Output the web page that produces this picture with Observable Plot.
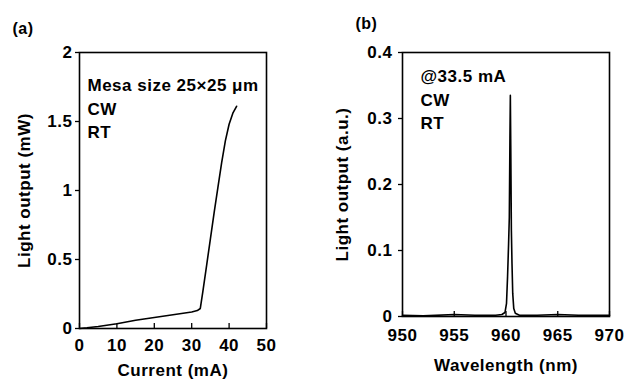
<!DOCTYPE html>
<html><head><meta charset="utf-8">
<script src="https://cdn.jsdelivr.net/npm/d3@7"></script>
<script src="https://cdn.jsdelivr.net/npm/@observablehq/plot@0.6"></script>
<style>
body{margin:0;background:#fff;}
#wrap{position:relative;width:627px;height:379px;overflow:hidden;background:#fff;}
#wrap svg{position:absolute;top:0;}
</style></head><body><div id="wrap"></div>
<script>
// Panel (a): L-I curve
const currentMA = [0, 2, 5, 10, 15, 20, 25, 30, 31.5, 32.3, 33, 34, 35, 36, 37, 38, 39, 40, 41, 42];
const powerMW   = [0, 0.005, 0.015, 0.035, 0.06, 0.08, 0.1, 0.12, 0.13, 0.145, 0.27, 0.46, 0.65, 0.84, 1.02, 1.2, 1.36, 1.48, 1.56, 1.61];
const xTicksA = [0, 10, 20, 30, 40, 50];
const xTickLabelsA = ["0", "10", "20", "30", "40", "50"];
const yTicksA = [0, 0.5, 1, 1.5, 2];
const yTickLabelsA = ["0", "0.5", "1", "1.5", "2"];
const annotA = ["Mesa size 25×25 μm", "CW", "RT"];
const xLabelA = "Current (mA)";
const yLabelA = "Light output (mW)";
const panelA = "(a)";

// Panel (b): spectrum
const wavelengthNM = [950, 952, 955, 957, 959, 959.6, 959.9, 960.05, 960.15, 960.25, 960.32, 960.38, 960.42, 960.46, 960.52, 960.58, 960.65, 960.75, 960.9, 961.3, 963, 965, 967, 970];
const intensityAU  = [0.002, 0.001, 0.003, 0.002, 0.002, 0.003, 0.006, 0.02, 0.06, 0.11, 0.15, 0.27, 0.335, 0.26, 0.13, 0.08, 0.035, 0.012, 0.005, 0.002, 0.002, 0.003, 0.002, 0.002];
const xTicksB = [950, 955, 960, 965, 970];
const xTickLabelsB = ["950", "955", "960", "965", "970"];
const yTicksB = [0, 0.1, 0.2, 0.3, 0.4];
const yTickLabelsB = ["0", "0.1", "0.2", "0.3", "0.4"];
const annotB = ["@33.5 mA", "CW", "RT"];
const xLabelB = "Wavelength (nm)";
const yLabelB = "Light output (a.u.)";
const panelB = "(b)";

const font = "'Liberation Sans', Arial, sans-serif";
const style = {fontFamily: font, fontSize: "17px", fontWeight: "bold", color: "black", background: "white", letterSpacing: "0.5px"};
const T = {fontSize: 17, fontWeight: "bold", fill: "black"};

function panel({xs, ys, xDomain, yDomain, xTicks, xTickLabels, yTicks, yLabels, annot, xLabel, yLabel, tag,
                width, mL, mR, mT, mB, xPad, yPad, annotDx, annotDy, xLabDy, yLabDx, tagDx, tagDy}) {
  const H = 379;
  const frameH = H - mT - mB;
  const frameW = width - mL - mR;
  const pts = xs.map((x, i) => ({x, y: ys[i]}));
  return Plot.plot({
    width, height: H,
    marginLeft: mL, marginRight: mR, marginTop: mT, marginBottom: mB,
    style,
    x: {domain: xDomain, axis: null},
    y: {domain: yDomain, axis: null},
    marks: [
      Plot.line(pts, {x: "x", y: "y", stroke: "black", strokeWidth: 1.6}),
      Plot.tickX(xTicks, {x: d => d, stroke: "black", strokeWidth: 1.3, insetTop: frameH - 5}),
      Plot.tickY(yTicks, {y: d => d, stroke: "black", strokeWidth: 1.3, insetLeft: -4, insetRight: frameW}),
      Plot.text(xTicks, {x: d => d, text: (d, i) => xTickLabels[i], frameAnchor: "bottom", dy: xPad, textAnchor: "middle", lineAnchor: "middle", ...T}),
      Plot.text(yTicks, {y: d => d, text: (d, i) => yLabels[i], frameAnchor: "left", dx: -yPad, textAnchor: "end", lineAnchor: "middle", ...T}),
      Plot.frame({stroke: "black", strokeWidth: 1.6}),
      Plot.text([annot.join("\n")], {frameAnchor: "top-left", dx: annotDx, dy: annotDy, textAnchor: "start", lineAnchor: "top", lineHeight: 1.38, ...T}),
      Plot.text([xLabel], {frameAnchor: "bottom", dy: xLabDy, textAnchor: "middle", lineAnchor: "middle", ...T}),
      Plot.text([yLabel], {frameAnchor: "left", dx: yLabDx, rotate: -90, textAnchor: "middle", lineAnchor: "middle", ...T}),
      Plot.text([tag], {frameAnchor: "top-left", dx: tagDx, dy: tagDy, textAnchor: "start", lineAnchor: "middle", ...T, fontSize: 16})
    ]
  });
}

const a = panel({xs: currentMA, ys: powerMW, xDomain: [0, 50], yDomain: [0, 2], xTicks: xTicksA, xTickLabels: xTickLabelsA, yTicks: yTicksA, yLabels: yTickLabelsA,
  annot: annotA, xLabel: xLabelA, yLabel: yLabelA, tag: panelA,
  width: 300, mL: 79, mR: 34, mT: 52, mB: 51, xPad: 17, yPad: 7, annotDx: 8, annotDy: 22, xLabDy: 42, yLabDx: -55, tagDx: -67, tagDy: -24});
a.style.left = "0px";

const b = panel({xs: wavelengthNM, ys: intensityAU, xDomain: [950, 970], yDomain: [0, 0.4], xTicks: xTicksB, xTickLabels: xTickLabelsB, yTicks: yTicksB, yLabels: yTickLabelsB,
  annot: annotB, xLabel: xLabelB, yLabel: yLabelB, tag: panelB,
  width: 317, mL: 92, mR: 18, mT: 52, mB: 63, xPad: 19, yPad: 10, annotDx: 18, annotDy: 13, xLabDy: 49, yLabDx: -60, tagDx: -47, tagDy: -29});
b.style.left = "310px";

document.getElementById("wrap").append(a, b);
</script></body></html>
